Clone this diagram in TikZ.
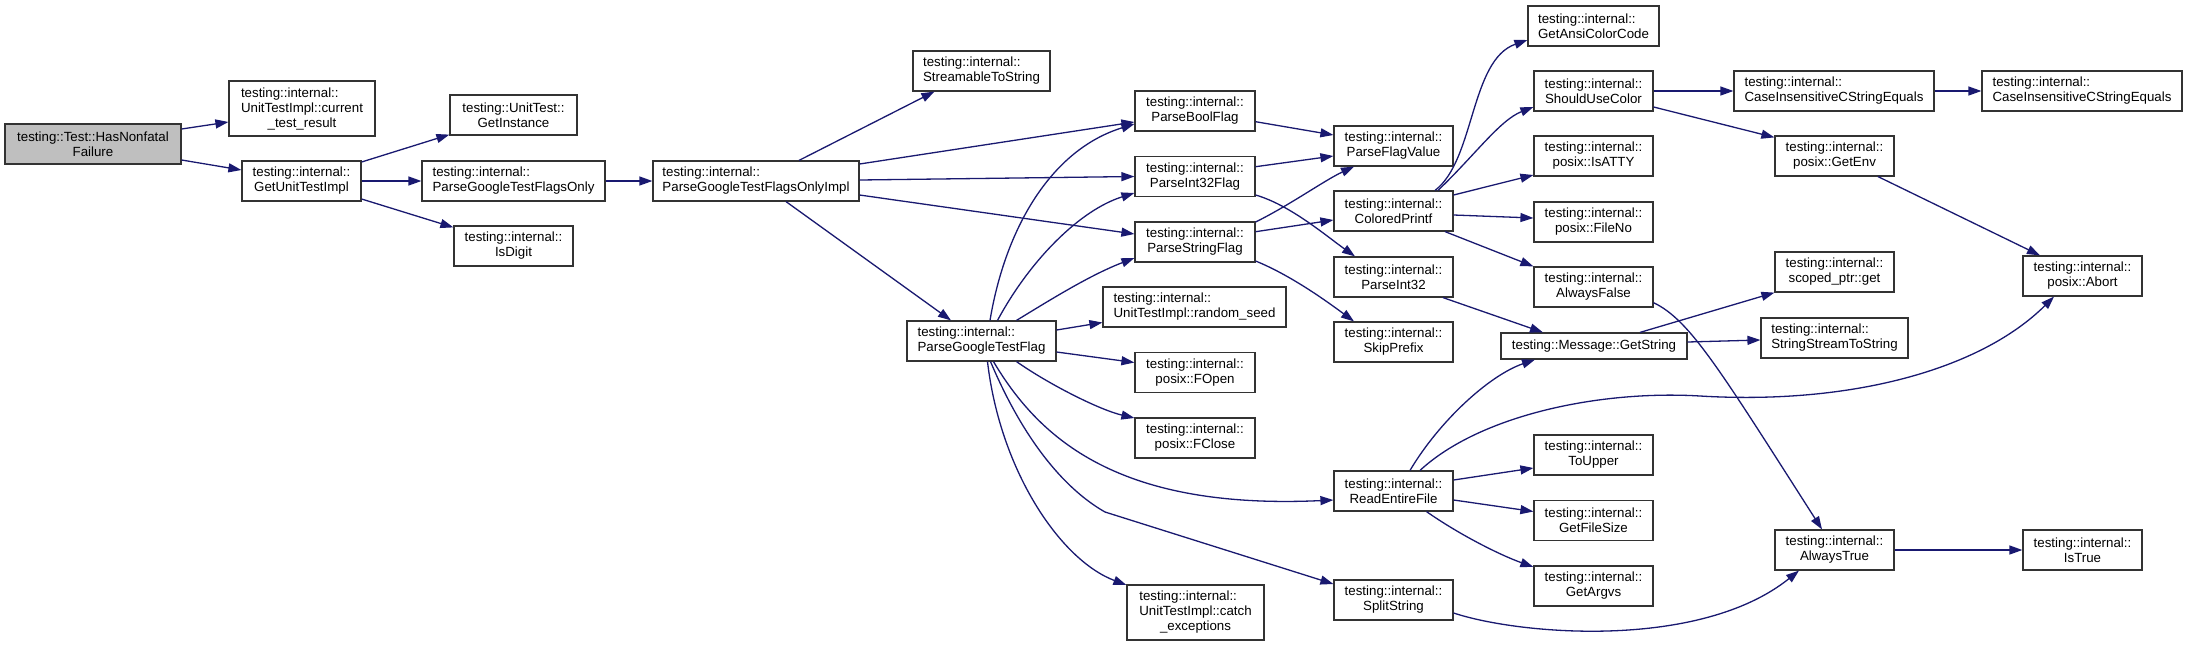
\documentclass[tikz,border=0pt]{standalone}
\usepackage{fontspec}
\usepackage{calc}
\setmainfont{Liberation Sans}
\usetikzlibrary{arrows.meta}
\definecolor{navyc}{HTML}{191970}
\definecolor{grayf}{HTML}{BFBFBF}
\definecolor{bordc}{HTML}{333333}
\begin{document}
\begin{tikzpicture}[x=1pt,y=-1pt,
  box/.style={draw=bordc, line width=1.2pt, fill=white, inner sep=0pt,
    font=\fontsize{13.3}{15}\selectfont, minimum height=40pt, minimum width=119pt, align=center},
  lbox/.style={box, align=left},
  edge/.style={draw=navyc, line width=1.3pt, -{Triangle[length=13pt,width=9pt]}}]
\fill[white] (0,0) rectangle (2188,646);
\useasboundingbox (0,0) rectangle (2188,646);

% nodes
\node[box, minimum width=176pt, fill=grayf] (hnf) at (93,144) {testing::Test::HasNonfatal\\Failure};
\node[box, minimum width=146pt, minimum height=55pt] (ctr) at (302,108.5) {\makebox[\widthof{UnitTestImpl::current}][l]{testing::internal::}\\UnitTestImpl::current\\\_test\_result};
\node[box] (guti) at (301.5,181) {testing::internal::\\GetUnitTestImpl};
\node[box, minimum width=127pt] (gi) at (513.5,115) {testing::UnitTest::\\GetInstance};
\node[lbox, minimum width=183pt] (pgtfo) at (513.5,181) {testing::internal::\\ParseGoogleTestFlagsOnly};
\node[box] (isd) at (513.5,246) {testing::internal::\\IsDigit};
\node[lbox, minimum width=206pt] (pgtfoi) at (756,181) {testing::internal::\\ParseGoogleTestFlagsOnlyImpl};
\node[lbox, minimum width=137pt] (sts) at (981.5,71) {testing::internal::\\StreamableToString};
\node[box, minimum width=120pt] (pbf) at (1195,111) {testing::internal::\\ParseBoolFlag};
\node[box, minimum width=120pt] (pi32f) at (1195,176.5) {testing::internal::\\ParseInt32Flag};
\node[box, minimum width=120pt] (psf) at (1195,242) {testing::internal::\\ParseStringFlag};
\node[lbox, minimum width=183pt] (rs) at (1194.5,307) {testing::internal::\\UnitTestImpl::random\_seed};
\node[lbox, minimum width=149pt] (pgtf) at (981.5,341) {testing::internal::\\ParseGoogleTestFlag};
\node[box, minimum width=120pt] (fopen) at (1195,372.5) {testing::internal::\\posix::FOpen};
\node[box, minimum width=120pt] (fclose) at (1195,438) {testing::internal::\\posix::FClose};
\node[box, minimum width=137pt, minimum height=55pt] (ce) at (1195.5,612.5) {\makebox[\widthof{UnitTestImpl::catch}][l]{testing::internal::}\\UnitTestImpl::catch\\\_exceptions};
\node[box] (pfv) at (1393.5,146) {testing::internal::\\ParseFlagValue};
\node[box] (cp) at (1393.5,211) {testing::internal::\\ColoredPrintf};
\node[box] (pi32) at (1393.5,277) {testing::internal::\\ParseInt32};
\node[box] (sp) at (1393.5,342) {testing::internal::\\SkipPrefix};
\node[box] (ref) at (1393.5,491) {testing::internal::\\ReadEntireFile};
\node[box] (ss) at (1393.5,600) {testing::internal::\\SplitString};
\node[lbox, minimum width=131pt] (gacc) at (1593.5,26) {testing::internal::\\GetAnsiColorCode};
\node[box] (suc) at (1593.5,91) {testing::internal::\\ShouldUseColor};
\node[box] (isatty) at (1593.5,156) {testing::internal::\\posix::IsATTY};
\node[box] (fileno) at (1593.5,222) {testing::internal::\\posix::FileNo};
\node[box] (af) at (1593.5,287) {testing::internal::\\AlwaysFalse};
\node[box, minimum width=186pt, minimum height=26pt] (mgs) at (1594,346) {testing::Message::GetString};
\node[box] (toupper) at (1593.5,455) {testing::internal::\\ToUpper};
\node[box] (gfs) at (1593.5,520.5) {testing::internal::\\GetFileSize};
\node[box] (gargv) at (1593.5,586) {testing::internal::\\GetArgvs};
\node[lbox, minimum width=200pt] (cice1) at (1834,91) {testing::internal::\\CaseInsensitiveCStringEquals};
\node[lbox, minimum width=200pt] (cice2) at (2082,91) {testing::internal::\\CaseInsensitiveCStringEquals};
\node[box] (getenv) at (1834.5,156) {testing::internal::\\posix::GetEnv};
\node[box] (spg) at (1834.5,272) {testing::internal::\\scoped\_ptr::get};
\node[lbox, minimum width=147pt] (ssts) at (1834.5,338) {testing::internal::\\StringStreamToString};
\node[box] (atrue) at (1834.5,550) {testing::internal::\\AlwaysTrue};
\node[box] (abort) at (2082.5,276) {testing::internal::\\posix::Abort};
\node[box] (istrue) at (2082.5,550) {testing::internal::\\IsTrue};

% edges
\draw[edge] ([yshift=15pt]hnf.east) -- ([yshift=-13.5pt]ctr.west);
\draw[edge] ([yshift=-16pt]hnf.east) -- ([yshift=11pt]guti.west);
\draw[edge] ([yshift=19pt]guti.east) -- ([yshift=1pt]gi.south west);
\draw[edge] (guti.east) -- (pgtfo.west);
\draw[edge] ([yshift=-18pt]guti.east) -- ([yshift=-2pt]isd.north west);
\draw[edge] (pgtfo.east) -- (pgtfoi.west);
\draw[edge] ([xshift=43pt]pgtfoi.north) -- ([xshift=22pt]sts.south west);
\draw[edge] ([yshift=17pt]pgtfoi.east) -- ([yshift=-11pt]pbf.west);
\draw[edge] ([yshift=1pt]pgtfoi.east) -- (pi32f.west);
\draw[edge] ([yshift=-14pt]pgtfoi.east) -- ([yshift=8pt]psf.west);
\draw[edge] ([xshift=30pt]pgtfoi.south) -- ([xshift=-30.5pt]pgtf.north);

\draw[edge] ([xshift=8.5pt]pgtf.north) .. controls (1005,230) and (1050,150) .. ([yshift=-13pt]pbf.west);
\draw[edge] ([xshift=16pt]pgtf.north) .. controls (1030,260) and (1080,210) .. ([yshift=-16.5pt]pi32f.west);
\draw[edge] ([xshift=35pt]pgtf.north) .. controls (1050,300) and (1090,275) .. ([yshift=-16pt]psf.west);
\draw[edge] ([yshift=11pt]pgtf.east) -- ([yshift=-15.5pt]rs.west);
\draw[edge] ([yshift=-11pt]pgtf.east) -- ([yshift=10pt]fopen.west);
\draw[edge] ([xshift=35pt]pgtf.south) .. controls (1050,385) and (1100,410) .. ([yshift=20pt]fclose.west);
\draw[edge] ([xshift=12pt]pgtf.south) .. controls (1040,440) and (1120,510) .. ([yshift=-9pt]ref.west);
\draw[edge] ([xshift=9pt]pgtf.south) .. controls (1030,455) and (1075,495) .. (1105,512) -- ([yshift=16pt]ss.west);
\draw[edge] ([xshift=6pt]pgtf.south) .. controls (1000,470) and (1060,560) .. ([yshift=27.5pt]ce.west);

\draw[edge] ([yshift=-10.7pt]pbf.east) -- ([yshift=11pt]pfv.west);
\draw[edge] ([yshift=9.8pt]pi32f.east) -- ([yshift=-10pt]pfv.west);
\draw[edge] ([yshift=-18.5pt]pi32f.east) .. controls (1290,205) and (1325,235) .. ([xshift=-38.5pt]pi32.north);
\draw[edge] ([yshift=20pt]psf.east) .. controls (1290,205) and (1325,180) .. ([xshift=-39.5pt]pfv.south);
\draw[edge] ([yshift=10.3pt]psf.east) -- ([yshift=-9pt]cp.west);
\draw[edge] ([yshift=-19pt]psf.east) .. controls (1290,275) and (1325,300) .. ([xshift=-39.5pt]sp.north);

\draw[edge] ([xshift=41.5pt]cp.north) .. controls (1475,160) and (1470,60) .. ([yshift=-14pt]gacc.west);
\draw[edge] ([xshift=44.5pt]cp.north) .. controls (1475,155) and (1500,120) .. ([yshift=-16pt]suc.west);
\draw[edge] ([yshift=16pt]cp.east) -- ([yshift=-19pt]isatty.west);
\draw[edge] ([yshift=-4pt]cp.east) -- ([yshift=4pt]fileno.west);
\draw[edge] ([xshift=51.5pt]cp.south) -- (af.north west);

\draw[edge] (suc.east) -- (cice1.west);
\draw[edge] ([yshift=-16pt]suc.east) -- ([yshift=-2pt]getenv.north west);
\draw[edge] (cice1.east) -- (cice2.west);
\draw[edge] ([xshift=43.5pt]getenv.south) -- ([xshift=-42.5pt]abort.north);

\draw[edge] ([xshift=49.5pt]pi32.south) -- ([xshift=-51pt]mgs.north);
\draw[edge] ([xshift=46pt]mgs.north) -- (spg.south west);
\draw[edge] ([yshift=4pt]mgs.east) -- ([yshift=-2pt]ssts.west);
\draw[edge] ([yshift=-15.7pt]af.east) .. controls (1690,320) and (1720,370) .. ([xshift=-12.5pt]atrue.north);

\draw[edge] ([xshift=16.5pt]ref.north) .. controls (1440,420) and (1490,375) .. ([xshift=-59pt]mgs.south);
\draw[edge] ([xshift=26.5pt]ref.north) .. controls (1480,415) and (1600,390) .. (1700,396) .. controls (1850,405) and (1980,370) .. ([xshift=-28.5pt]abort.south);
\draw[edge] ([yshift=11pt]ref.east) -- ([yshift=-13pt]toupper.west);
\draw[edge] ([yshift=-9pt]ref.east) -- ([yshift=9pt]gfs.west);
\draw[edge] ([xshift=33pt]ref.south) .. controls (1460,535) and (1500,555) .. ([yshift=19pt]gargv.west);
\draw[edge] ([yshift=-13pt]ss.east) .. controls (1520,635) and (1700,650) .. ([xshift=-35.5pt]atrue.south);
\draw[edge] (atrue.east) -- (istrue.west);
\end{tikzpicture}
\end{document}
